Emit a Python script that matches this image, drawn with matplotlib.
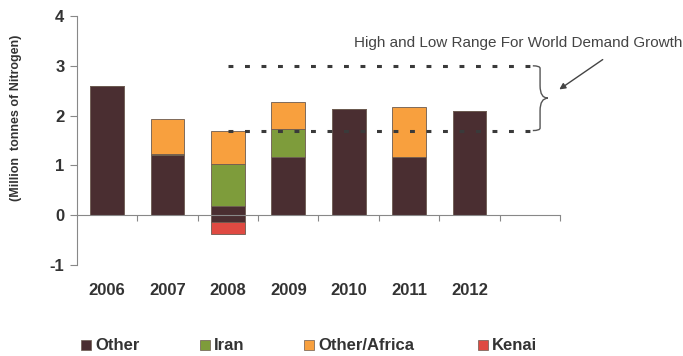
import matplotlib

matplotlib.use("Agg")
import matplotlib.pyplot as plt
from matplotlib.patches import Rectangle, PathPatch
from matplotlib.path import Path

plt.rcParams["font.family"] = ["Liberation Sans", "DejaVu Sans"]

YEARS = ["2006", "2007", "2008", "2009", "2010", "2011", "2012"]
OTHER = [2.6, 1.2, 0.19, 1.17, 2.13, 1.17, 2.09]
OTHER_NEG = [0, 0, -0.13, 0, 0, 0, 0]
IRAN = [0, 0.03, 0.84, 0.56, 0, 0, 0]
AFRICA = [0, 0.71, 0.66, 0.54, 0, 1.01, 0]
KENAI = [0, 0, -0.24, 0, 0, 0, 0]
RANGE_HIGH = 3.0
RANGE_LOW = 1.7

COLORS = {"Other": "#4a2e31", "Iran": "#7e9c3b", "Other/Africa": "#f8a03e", "Kenai": "#df4a42"}
EDGE = "#6b5a50"

fig = plt.figure(figsize=(6.83, 3.56), dpi=100)
ax = fig.add_axes([0.1127, 0.2556, 0.7072, 0.6994])

x = list(range(len(YEARS)))
w = 0.56
ax.bar(x, OTHER, w, color=COLORS["Other"], edgecolor=EDGE, lw=0.6, zorder=2)
ax.bar(x, OTHER_NEG, w, color=COLORS["Other"], edgecolor=EDGE, lw=0.6, zorder=2)
ax.bar(x, IRAN, w, bottom=OTHER, color=COLORS["Iran"], edgecolor=EDGE, lw=0.6, zorder=2)
bot = [o + i for o, i in zip(OTHER, IRAN)]
ax.bar(x, AFRICA, w, bottom=bot, color=COLORS["Other/Africa"], edgecolor=EDGE, lw=0.6, zorder=2)
ax.bar(x, KENAI, w, bottom=OTHER_NEG, color=COLORS["Kenai"], edgecolor=EDGE, lw=0.6, zorder=2)

# demand growth range
x0, x1 = 2.0, 7.05
for yv in (RANGE_HIGH, RANGE_LOW):
    ax.plot([x0, x1], [yv, yv], color="#3a3a3a", lw=2.2, ls=(0, (1.6, 3.8)), zorder=3)

# curly brace
bx, tip = x1, 7.30
ym = (RANGE_HIGH + RANGE_LOW) / 2
verts = [(bx, RANGE_HIGH), (bx + 0.12, RANGE_HIGH), (bx + 0.12, RANGE_HIGH - 0.05),
         (bx + 0.12, ym + 0.25), (bx + 0.12, ym), (tip, ym),
         (bx + 0.12, ym), (bx + 0.12, ym - 0.25), (bx + 0.12, RANGE_LOW + 0.05),
         (bx + 0.12, RANGE_LOW), (bx, RANGE_LOW)]
codes = [Path.MOVETO, Path.CURVE3, Path.CURVE3, Path.LINETO, Path.CURVE3, Path.CURVE3,
         Path.CURVE3, Path.CURVE3, Path.LINETO, Path.CURVE3, Path.CURVE3]
ax.add_patch(PathPatch(Path(verts, codes), fill=False, ec="#555555", lw=1.0, clip_on=False))

fig.text(0.518, 0.878, "High and Low Range For World Demand Growth", fontsize=11,
         color="#444444", va="center", ha="left")
ax.annotate("", xy=(557 / 683, 1 - 91 / 356), xytext=(605 / 683, 1 - 58 / 356),
            xycoords="figure fraction", textcoords="figure fraction",
            arrowprops=dict(arrowstyle="-|>", color="#444444", lw=1.0, mutation_scale=9))

ax.set_xlim(-0.5, 7.5)
ax.set_ylim(-1, 4)
ax.set_yticks([-1, 0, 1, 2, 3, 4])
ax.set_yticklabels(["-1", "0", "1", "2", "3", "4"], fontsize=12, fontweight="bold", color="#333333")
ax.set_xticks([i + 0.5 for i in range(8)])
ax.set_xticklabels([])
ax.tick_params(axis="x", length=4, color="#888888", direction="out")
ax.tick_params(axis="y", length=5, color="#888888", pad=4)
for s in ("top", "right"):
    ax.spines[s].set_visible(False)
ax.spines["bottom"].set_position(("data", 0))
ax.spines["bottom"].set_color("#888888")
ax.spines["left"].set_color("#888888")

for i, yr in enumerate(YEARS):
    ax.text(i, -1.52, yr, ha="center", va="center", fontsize=12, fontweight="bold",
            color="#333333", clip_on=False)

fig.text(0.024, 0.67, "(Million  tonnes of Nitrogen)", rotation=90, fontsize=9,
         fontweight="bold", color="#333333", ha="center", va="center")

# legend
for xs, name in zip([86, 205, 309, 483], COLORS):
    fig.patches.append(Rectangle(((xs - 5) / 683, 1 - 350 / 356), 10 / 683, 10 / 356,
                                 transform=fig.transFigure, color=COLORS[name], ec=EDGE, lw=0.5))
    fig.text((xs + 9) / 683, 1 - 345 / 356, name, fontsize=12, fontweight="bold",
             color="#333333", va="center", ha="left")

fig.savefig("out.png", dpi=100)
